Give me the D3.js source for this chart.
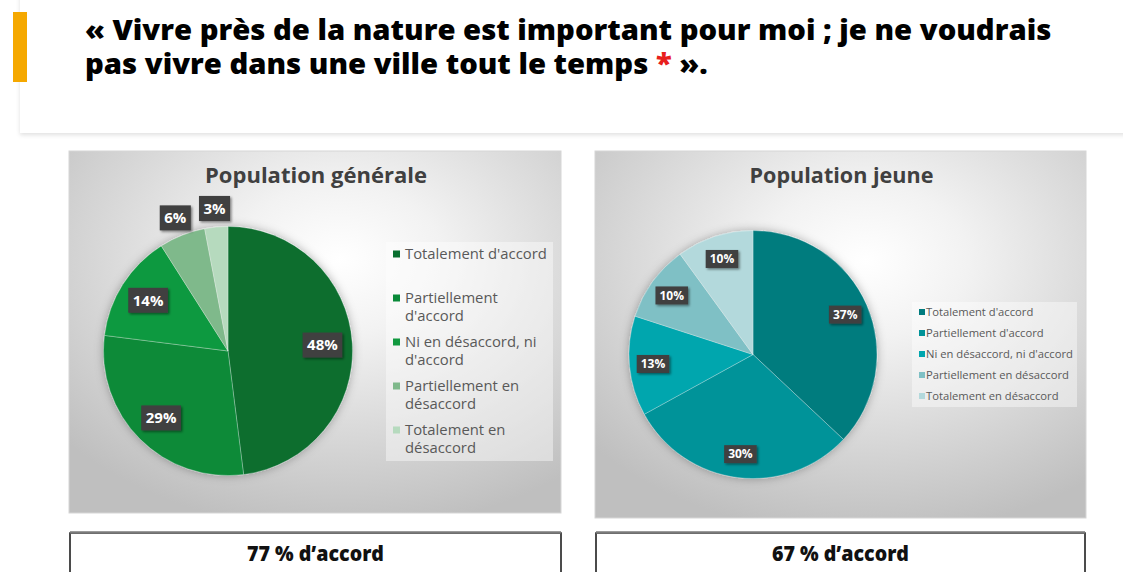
<!DOCTYPE html>
<html>
<head>
<meta charset="utf-8">
<script src="https://cdn.jsdelivr.net/npm/d3@7"></script>
<style>
  html, body { margin: 0; padding: 0; background: #fff; }
  svg { display: block; }
</style>
</head>
<body>
<svg id="chart" width="1123" height="572"></svg>
<script>
// --- data ---
const categories = [
  "Totalement d'accord",
  "Partiellement d'accord",
  "Ni en désaccord, ni d'accord",
  "Partiellement en désaccord",
  "Totalement en désaccord"
];
const generalValues = [48, 29, 14, 6, 3];
const youngValues = [37, 30, 13, 10, 10];
const generalColors = ['#086e2e', '#0a8a39', '#11993f', '#7fb98b', '#b6dabe'];
const youngColors = ['#007b7e', '#009399', '#00a6ae', '#7fc0c5', '#b3d9dc'];
const headLine1 = "« Vivre près de la nature est important pour moi ; je ne voudrais";
const headLine2 = "pas vivre dans une ville tout le temps ";

const svg = d3.select('#chart');
const defs = svg.append('defs');

const shadow = (id, dx, dy, sd, op) => defs.append('filter')
    .attr('id', id).attr('x', '-30%').attr('y', '-30%').attr('width', '160%').attr('height', '160%')
  .append('feDropShadow')
    .attr('dx', dx).attr('dy', dy).attr('stdDeviation', sd)
    .attr('flood-color', '#000').attr('flood-opacity', op);
shadow('cardShadow', 0, 2, 2, 0.12);
shadow('pieShadow', 0, 0, 5, 0.3);
shadow('labelShadow', 1.5, 1.5, 1.2, 0.45);

const bg = defs.append('radialGradient')
    .attr('id', 'panelBg').attr('cx', '55%').attr('cy', '30%').attr('r', '75%');
bg.append('stop').attr('offset', '0%').attr('stop-color', '#ffffff');
bg.append('stop').attr('offset', '28%').attr('stop-color', '#f2f2f2');
bg.append('stop').attr('offset', '100%').attr('stop-color', '#bfbfbf');

// header card
svg.append('rect')
  .attr('x', 20).attr('y', -10).attr('width', 1120).attr('height', 143)
  .attr('fill', '#fff').attr('filter', 'url(#cardShadow)');
svg.append('rect')
  .attr('x', 13).attr('y', 12).attr('width', 14).attr('height', 70)
  .attr('fill', '#f5a800');

const head = svg.append('g');
const headFont = '"Open Sans", sans-serif';
head.append('text')
  .attr('x', 0).attr('y', 40)
  .attr('font-family', headFont).attr('font-weight', 800).attr('font-size', 28)
  .attr('fill', '#000')
  .text(headLine1);
const l2 = head.append('text')
  .attr('x', 0).attr('y', 74)
  .attr('font-family', headFont).attr('font-weight', 800).attr('font-size', 28)
  .attr('fill', '#000');
l2.append('tspan').text(headLine2);
l2.append('tspan').attr('fill', '#e8201c').text('*');
l2.append('tspan').text(' ».');
const hw = head.node().getBBox().width;
head.attr('transform', `translate(85,0) scale(${967 / hw},1)`);

// one pie panel
const drawPanel = (opts) => {
  const { values, colors, title, x, y, w, h, cx, cy, r,
          labelFont, labelK, outerK, smallCut, padX, padY,
          legend, titleWidth, boxX, boxW } = opts;

  const g = svg.append('g');
  g.append('rect')
    .attr('x', x).attr('y', y).attr('width', w).attr('height', h)
    .attr('fill', 'url(#panelBg)').attr('stroke', '#d6d6d6').attr('stroke-width', 1);

  const t = g.append('text')
    .attr('x', x + w / 2 + 1).attr('y', 183)
    .attr('text-anchor', 'middle')
    .attr('font-family', '"Open Sans", sans-serif').attr('font-weight', 700)
    .attr('font-size', 21).attr('fill', '#404040')
    .text(title);
  const tw = t.node().getComputedTextLength();
  t.attr('font-size', 21 * titleWidth / tw);

  const pie = d3.pie().sort(null).value(d => d)(values);
  const arc = d3.arc().innerRadius(0).outerRadius(r);
  const pg = g.append('g').attr('transform', `translate(${cx},${cy})`);
  pg.append('g').attr('filter', 'url(#pieShadow)')
    .selectAll('path').data(pie).join('path')
      .attr('d', arc)
      .attr('fill', (d, i) => colors[i])
      .attr('stroke', 'rgba(255,255,255,0.35)').attr('stroke-width', 0.8);

  const labels = pg.selectAll('g.lab').data(pie).join('g')
    .attr('class', 'lab')
    .attr('transform', d => {
      const k = d.data < smallCut ? outerK : labelK;
      const c = d3.arc().innerRadius(k * r).outerRadius(k * r).centroid(d);
      return `translate(${c[0]},${c[1]})`;
    });
  labels.each(function (d) {
    const lg = d3.select(this);
    const rect = lg.append('rect').attr('fill', '#404040').attr('filter', 'url(#labelShadow)');
    const tx = lg.append('text')
      .attr('text-anchor', 'middle').attr('dy', '0.36em')
      .attr('font-family', '"Open Sans", sans-serif').attr('font-weight', 700)
      .attr('font-size', labelFont).attr('fill', '#fff')
      .text(d.data + '%');
    const bw = tx.node().getComputedTextLength() + padX * 2;
    const bh = labelFont + padY * 2;
    rect.attr('x', -bw / 2).attr('y', -bh / 2).attr('width', bw).attr('height', bh);
  });

  // legend
  const lgd = g.append('g');
  lgd.append('rect')
    .attr('x', legend.x).attr('y', legend.y).attr('width', legend.w).attr('height', legend.h)
    .attr('fill', '#ffffff').attr('fill-opacity', 0.42);
  // size the legend font so the reference word matches its width
  const probe = lgd.append('text')
    .attr('font-family', '"Open Sans", sans-serif').attr('font-size', 14)
    .text(categories[legend.ref]);
  const fs = 14 * legend.refW / probe.node().getComputedTextLength();
  probe.remove();
  categories.forEach((c, i) => {
    const iy = legend.first + i * legend.step;
    lgd.append('rect')
      .attr('x', legend.x + legend.mk).attr('y', iy - legend.ms / 2)
      .attr('width', legend.ms).attr('height', legend.ms)
      .attr('fill', colors[i]);
    const txt = lgd.append('text')
      .attr('x', legend.x + legend.tx).attr('y', iy)
      .attr('dy', '0.35em')
      .attr('font-family', '"Open Sans", sans-serif').attr('font-size', fs)
      .attr('fill', '#595959');
    // wrap words to the legend width
    const words = c.split(' ');
    let line = [];
    let ts = txt.append('tspan').attr('x', legend.x + legend.tx);
    words.forEach(wd => {
      line.push(wd);
      ts.text(line.join(' '));
      if (ts.node().getComputedTextLength() > legend.maxW && line.length > 1) {
        line.pop();
        ts.text(line.join(' '));
        line = [wd];
        ts = txt.append('tspan').attr('x', legend.x + legend.tx)
          .attr('dy', legend.lh).text(wd);
      }
    });
  });

  // bottom box with agreement total
  const agree = values[0] + values[1];
  g.append('rect')
    .attr('x', boxX).attr('y', 533).attr('width', boxW).attr('height', 60)
    .attr('fill', '#fff').attr('stroke', '#111').attr('stroke-width', 1.5);
  g.append('line')
    .attr('x1', boxX).attr('x2', boxX + boxW).attr('y1', 532.5).attr('y2', 532.5)
    .attr('stroke', '#7a7a7a').attr('stroke-width', 2.5);
  const bt = g.append('text')
    .attr('y', 561)
    .attr('font-family', '"Open Sans", sans-serif').attr('font-weight', 800)
    .attr('font-size', 21).attr('fill', '#111')
    .text(`${agree} % d’accord`);
  const bw = bt.node().getComputedTextLength();
  const sx = 137 / bw;
  bt.attr('transform', `translate(${boxX + boxW / 2 - 68.5},0) scale(${sx},1)`);
};

drawPanel({
  values: generalValues, colors: generalColors, title: 'Population générale',
  x: 69, y: 151, w: 492, h: 362, cx: 228, cy: 351, r: 124.5,
  labelFont: 15, labelK: 0.76, outerK: 1.15, smallCut: 8, padX: 4.5, padY: 5,
  titleWidth: 222, boxX: 70, boxW: 491,
  legend: { x: 386, y: 242, w: 167, h: 219, first: 254, step: 44, lh: 18,
            mk: 7, ms: 7, tx: 19, ref: 0, refW: 142, maxW: 146 }
});

drawPanel({
  values: youngValues, colors: youngColors, title: 'Population jeune',
  x: 595, y: 151, w: 491, h: 367, cx: 753, cy: 354.5, r: 124,
  labelFont: 12, labelK: 0.81, outerK: 0.81, smallCut: 0, padX: 4, padY: 3,
  titleWidth: 184, boxX: 596, boxW: 489,
  legend: { x: 912, y: 302, w: 165, h: 105, first: 312, step: 21, lh: 13,
            mk: 7, ms: 6, tx: 14, ref: 2, refW: 147, maxW: 200 }
});
</script>
</body>
</html>
